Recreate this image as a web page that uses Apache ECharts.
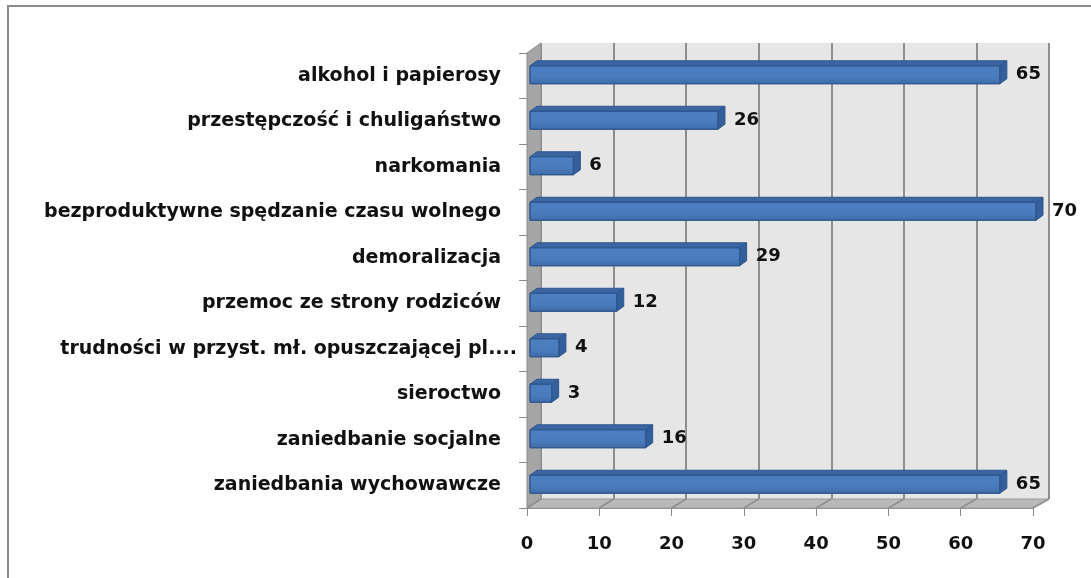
<!DOCTYPE html>
<html>
<head>
<meta charset="utf-8">
<script src="https://cdn.jsdelivr.net/npm/echarts@6/dist/echarts.min.js"></script>
<style>
  html, body { margin: 0; padding: 0; background: #fff; }
  #chart { width: 1091px; height: 578px; }
</style>
</head>
<body>
<div id="chart"></div>
<script>
// dane z wykresu
const categories = [
  'alkohol i papierosy',
  'przestępczość i chuligaństwo',
  'narkomania',
  'bezproduktywne spędzanie czasu wolnego',
  'demoralizacja',
  'przemoc ze strony rodziców',
  'trudności w przyst. mł. opuszczającej pl....',
  'sieroctwo',
  'zaniedbanie socjalne',
  'zaniedbania wychowawcze'
];
const values = [65, 26, 6, 70, 29, 12, 4, 3, 16, 65];
const xMin = 0, xMax = 70, xStep = 10;

// front / back planes of the 3D box
const W = 1091, H = 578;
const front = { left: 527, right: 1033, top: 53, bottom: 508 };
const back = { left: 541, right: 1049, top: 43, bottom: 499 };
const bar = { dx: 3, depthX: 7, depthY: -5, up: 10, h: 18 };
const font = '"DejaVu Sans", Verdana, sans-serif';

const chart = echarts.init(document.getElementById('chart'));

function renderBar(params, api) {
  const idx = api.value(0);
  const val = api.value(1);
  const p0 = api.coord([0, idx]);
  const p1 = api.coord([val, idx]);
  const x0 = p0[0] + bar.dx, x1 = p1[0] + bar.dx;
  const top = p0[1] - bar.up, h = bar.h;
  const dx = bar.depthX, dy = bar.depthY;
  return {
    type: 'group',
    children: [
      {
        type: 'polygon',
        shape: { points: [[x0, top], [x1, top], [x1 + dx, top + dy], [x0 + dx, top + dy]] },
        style: { fill: '#3a66a3', stroke: '#2f568c', lineWidth: 1 }
      },
      {
        type: 'polygon',
        shape: { points: [[x1, top], [x1 + dx, top + dy], [x1 + dx, top + dy + h], [x1, top + h]] },
        style: { fill: '#33609c', stroke: '#2f568c', lineWidth: 1 }
      },
      {
        type: 'rect',
        shape: { x: x0, y: top, width: x1 - x0, height: h },
        style: {
          fill: new echarts.graphic.LinearGradient(0, 0, 0, 1, [
            { offset: 0, color: '#4c7fc1' },
            { offset: 0.6, color: '#4a7cbd' },
            { offset: 1, color: '#3f6ca8' }
          ]),
          stroke: '#30578d', lineWidth: 1
        }
      },
      {
        type: 'text',
        style: {
          text: String(val),
          x: x1 + dx + 9, y: top + h / 2,
          align: 'left', verticalAlign: 'middle',
          fill: '#111', font: 'bold 18px ' + font
        }
      }
    ]
  };
}

const labelStyle = { color: '#111', fontWeight: 'bold', fontSize: 19, fontFamily: font };

const option = {
  animation: false,
  backgroundColor: '#fff',
  grid: [
    { left: back.left, right: W - back.right, top: back.top, bottom: H - back.bottom,
      show: true, backgroundColor: '#e6e6e6', borderWidth: 0 },
    { left: front.left, right: W - front.right, top: front.top, bottom: H - front.bottom }
  ],
  xAxis: [
    { gridIndex: 0, type: 'value', min: xMin, max: xMax, interval: xStep,
      axisLabel: { show: false }, axisTick: { show: false }, axisLine: { show: false },
      splitLine: { show: true, lineStyle: { color: '#8e8e8e', width: 2 } } },
    { gridIndex: 1, type: 'value', min: xMin, max: xMax, interval: xStep,
      axisLine: { show: true, lineStyle: { color: '#8a8a8a', width: 1 } },
      axisTick: { show: true, length: 8, lineStyle: { color: '#8a8a8a' } },
      splitLine: { show: false },
      axisLabel: { margin: 27, color: '#111', fontWeight: 'bold', fontSize: 18, fontFamily: font } }
  ],
  yAxis: [
    { gridIndex: 0, type: 'category', data: categories, inverse: true, show: false },
    { gridIndex: 1, type: 'category', data: categories, inverse: true,
      axisLine: { show: true, lineStyle: { color: '#8a8a8a' } },
      axisTick: { show: true, length: 8, lineStyle: { color: '#8a8a8a' } },
      axisLabel: {
        margin: 10,
        formatter: v => (v.endsWith('....') ? '{t|' + v + '}' : '{n|' + v + '}'),
        rich: {
          n: Object.assign({ padding: [0, 16, 0, 0] }, labelStyle),
          t: Object.assign({ padding: [0, 0, 0, 0] }, labelStyle)
        }
      } }
  ],
  series: [{
    type: 'custom',
    xAxisIndex: 1, yAxisIndex: 1,
    renderItem: renderBar,
    encode: { x: 1, y: 0 },
    data: values.map((v, i) => [i, v]),
    z: 5
  }]
};
chart.setOption(option);

// floor, left wall and floor grid lines (decoration of the 3D box)
const deco = [
  { type: 'rect', shape: { x: 8, y: 6, width: W + 20, height: H + 20 },
    style: { fill: 'none', stroke: '#8c8c8c', lineWidth: 2 }, z: 100, silent: true },
  { type: 'polygon', z: 1,
    shape: { points: [[front.left, front.top], [back.left, back.top], [back.left, back.bottom], [front.left, front.bottom]] },
    style: { fill: '#a6a6a6', stroke: '#8a8a8a', lineWidth: 1 } },
  { type: 'polygon', z: 1,
    shape: { points: [[front.left, front.bottom], [front.right, front.bottom], [back.right, back.bottom], [back.left, back.bottom]] },
    style: { fill: '#b9b9b9', stroke: '#9a9a9a', lineWidth: 1 } }
];
for (let v = xMin; v <= xMax; v += xStep) {
  const fx = chart.convertToPixel({ xAxisIndex: 1 }, v);
  const bx = chart.convertToPixel({ xAxisIndex: 0 }, v);
  deco.push({ type: 'line', z: 2,
    shape: { x1: fx, y1: front.bottom, x2: bx, y2: back.bottom },
    style: { stroke: '#8e8e8e', lineWidth: 1.5 } });
}
chart.setOption({ graphic: deco });
</script>
</body>
</html>
